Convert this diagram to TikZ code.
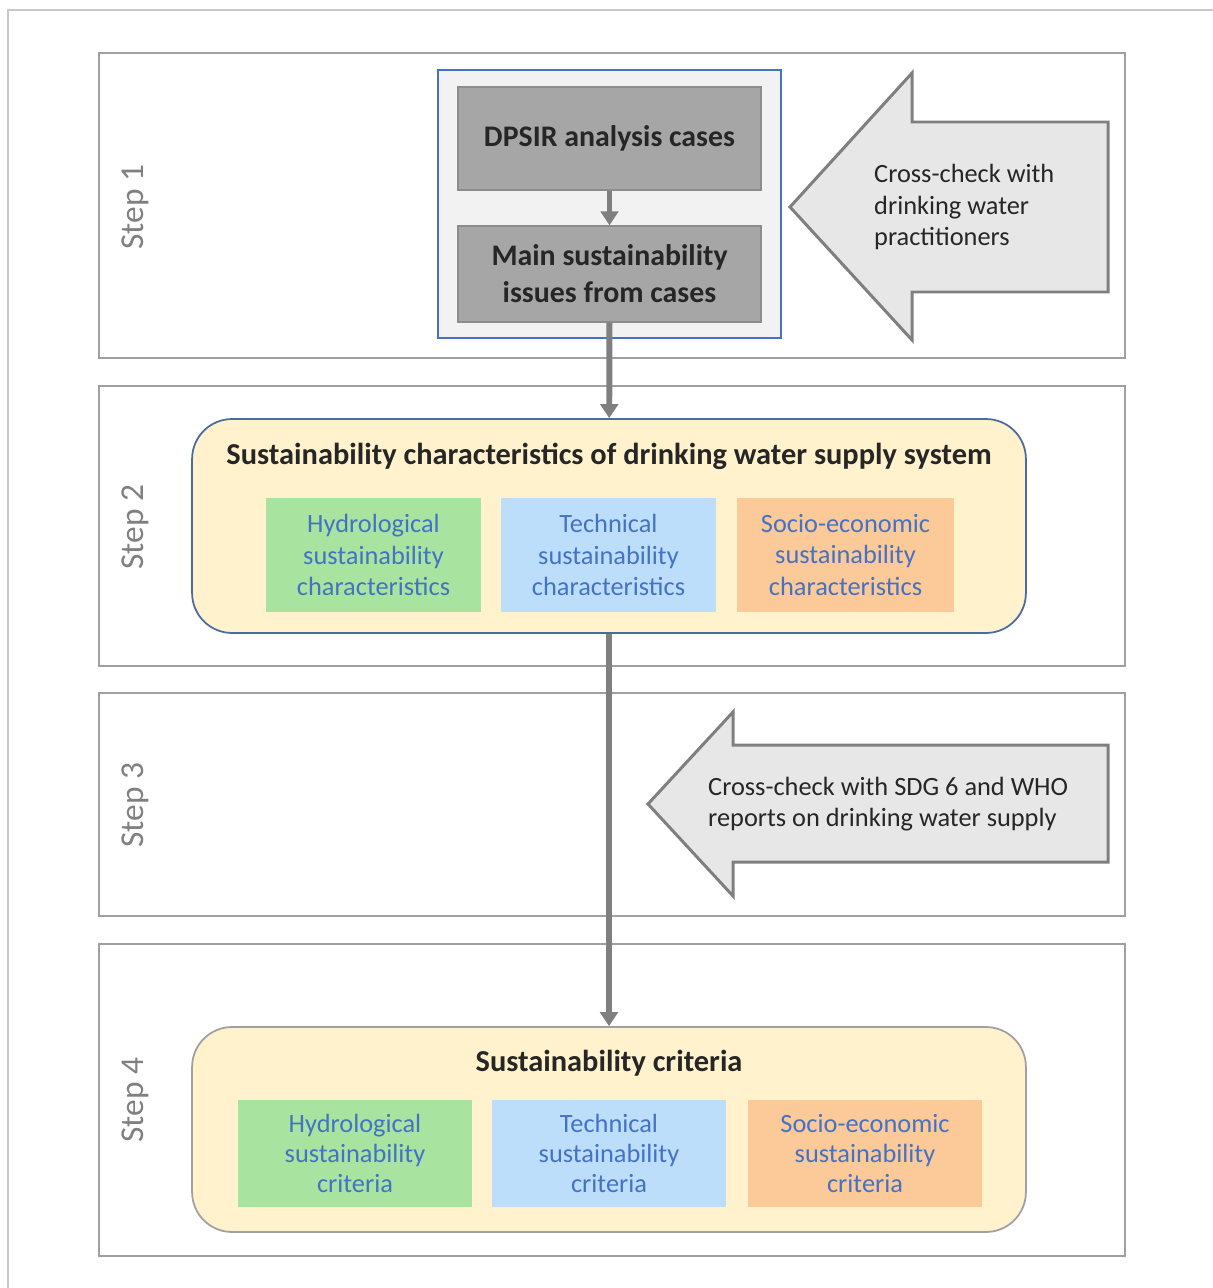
\documentclass[tikz,border=0pt]{standalone}
\usepackage{fontspec}
\setmainfont{Carlito}
\usetikzlibrary{arrows.meta}
\usetikzlibrary{positioning}
\definecolor{frame-gray}{RGB}{200, 200, 200}
\definecolor{step-gray}{RGB}{160, 160, 160}
\definecolor{label-gray}{RGB}{128, 128, 128}
\definecolor{dark-box}{RGB}{166, 166, 166}
\definecolor{dark-line}{RGB}{140, 140, 140}
\definecolor{pale-box}{RGB}{242, 242, 242}
\definecolor{custom-blue}{RGB}{68, 114, 196}
\definecolor{navy-line}{RGB}{74, 106, 160}
\definecolor{custom-yellow}{RGB}{255, 242, 204}
\definecolor{custom-green}{RGB}{169, 227, 160}
\definecolor{custom-sky}{RGB}{189, 222, 251}
\definecolor{custom-orange}{RGB}{252, 201, 152}
\definecolor{arrow-fill}{RGB}{231, 231, 231}
\definecolor{arrow-line}{RGB}{127, 127, 127}
\definecolor{text-dark}{RGB}{38, 38, 38}

\begin{document}
\begin{tikzpicture}[x=0.02cm, y=-0.02cm,
    every node/.style={font=\fontsize{15}{18}\selectfont},
    stepbox/.style={draw=step-gray, line width=1.1pt, minimum width=20.52cm},
    steplabel/.style={rotate=90, text=label-gray, font=\fontsize{19}{22}\selectfont},
    darkbox/.style={draw=dark-line, fill=dark-box, line width=0.8pt, minimum width=6.06cm,
        align=center, text=text-dark, font=\fontsize{17}{21}\selectfont\bfseries},
    roundbox/.style={fill=custom-yellow, line width=1pt, rounded corners=0.8cm, minimum width=16.68cm},
    titletext/.style={text=text-dark, font=\fontsize{17.3}{20}\selectfont\bfseries},
    subbox/.style={align=center, text=custom-blue, inner sep=0pt},
    bigarrow/.style={draw=arrow-line, fill=arrow-fill, line width=1.7pt},
    flow/.style={draw=arrow-line, line width=3.4pt, -{Triangle[width=10pt, length=8pt]}}]
    \useasboundingbox (0,0) rectangle (1213,1288);
    \draw [frame-gray, line width=0.8pt] (8,1288) -- (8,10) -- (1213,10);
                \node [stepbox, minimum height=6.1cm] (step1) at (612,205.5) {};
                \node [stepbox, minimum height=5.6cm] (step2) at (612,526) {};
                \node [stepbox, minimum height=4.46cm] (step3) at (612,804.5) {};
                \node [stepbox, minimum height=6.24cm] (step4) at (612,1100) {};
                \node [steplabel] (lab1) at (135,207) {Step 1};
                \node [steplabel] (lab2) at (135,527) {Step 2};
                \node [steplabel] (lab3) at (135,805) {Step 3};
                \node [steplabel] (lab4) at (135,1100) {Step 4};
                \node [draw=custom-blue, fill=pale-box, line width=0.8pt,
                       minimum width=6.86cm, minimum height=5.36cm] (cases) at (609.5,204) {};
                \node [darkbox, minimum height=2.06cm] (dpsir) at (609.5,138.5) {DPSIR analysis cases};
                \node [darkbox, minimum height=1.92cm] (issues) at (609.5,274)
                      {Main sustainability\\issues from cases};
                \draw [flow, line width=3pt] (dpsir) -- (issues);
                \draw [bigarrow] (790,207) -- (912,73) -- (912,122) -- (1108,122)
                      -- (1108,292) -- (912,292) -- (912,340) -- cycle;
                \node [anchor=west, align=left, text=text-dark] (check1) at (868,207)
                      {Cross-check with\\drinking water\\practitioners};
                \node [roundbox, draw=navy-line, minimum height=4.28cm] (chars) at (609,526) {};
                \node [titletext] (charstitle) at (609,456)
                      {Sustainability characteristics of drinking water supply system};
                \node [subbox, fill=custom-green, minimum width=4.3cm, minimum height=2.28cm] (hydchar) at (373.5,555)
                      {Hydrological\\sustainability\\characteristics};
                \node [subbox, fill=custom-sky, minimum width=4.3cm, minimum height=2.28cm] (techchar) at (608.5,555)
                      {Technical\\sustainability\\characteristics};
                \node [subbox, fill=custom-orange, minimum width=4.34cm, minimum height=2.28cm] (sociochar) at (845.5,555)
                      {Socio-economic\\sustainability\\characteristics};
                \draw [bigarrow] (648,804) -- (733,712) -- (733,745) -- (1108,745)
                      -- (1108,862) -- (733,862) -- (733,896) -- cycle;
                \node [anchor=west, align=left, text=text-dark] (check2) at (702,804)
                      {Cross-check with SDG 6 and WHO\\reports on drinking water supply};
                \node [roundbox, draw=step-gray, minimum height=4.1cm] (criteria) at (609,1129.5) {};
                \node [titletext] (crittitle) at (609,1063) {Sustainability criteria};
                \node [subbox, fill=custom-green, minimum width=4.68cm, minimum height=2.14cm,
                       font=\fontsize{15}{17}\selectfont] (hydcrit) at (355,1153.5)
                      {Hydrological\\sustainability\\criteria};
                \node [subbox, fill=custom-sky, minimum width=4.68cm, minimum height=2.14cm,
                       font=\fontsize{15}{17}\selectfont] (techcrit) at (609,1153.5)
                      {Technical\\sustainability\\criteria};
                \node [subbox, fill=custom-orange, minimum width=4.68cm, minimum height=2.14cm,
                       font=\fontsize{15}{17}\selectfont] (sociocrit) at (865,1153.5)
                      {Socio-economic\\sustainability\\criteria};
                \draw [flow] (issues) -- (chars);
                \draw [flow] (chars) -- (criteria);
            \end{tikzpicture}
\end{document}
